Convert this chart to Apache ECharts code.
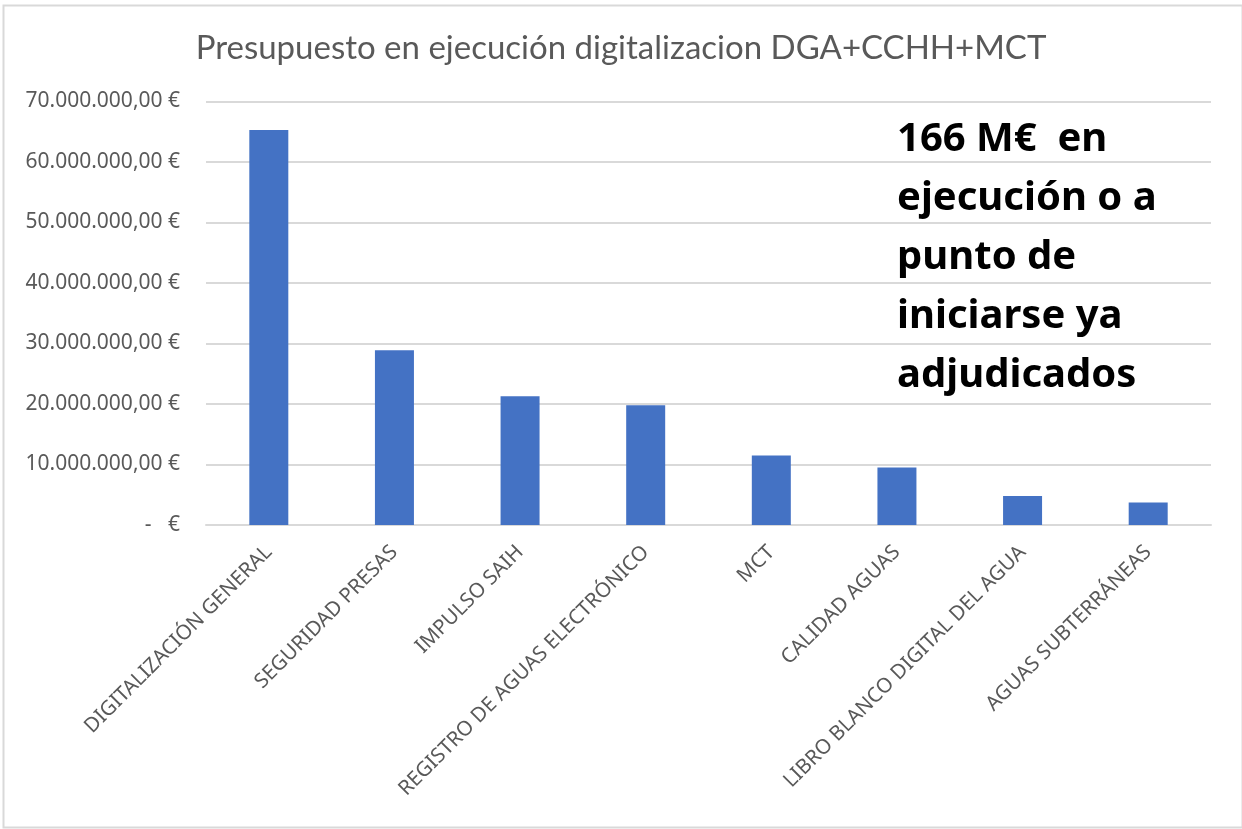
<!DOCTYPE html>
<html lang="es">
  <head>
    <meta charset="UTF-8" />
    <script src="https://cdn.jsdelivr.net/npm/echarts@6.0.0/dist/echarts.min.js"></script>
    <title>Presupuesto en ejecución digitalizacion</title>
    <style>
      html, body { margin: 0; padding: 0; background: #fff; }
      #chart { width: 1242px; height: 829px; }
    </style>
  </head>
  <body>
    <div id="chart"></div>
    <script>
      // categorías y presupuesto (€)
      const categorias = [
        "DIGITALIZACIÓN GENERAL",
        "SEGURIDAD PRESAS",
        "IMPULSO SAIH",
        "REGISTRO DE AGUAS ELECTRÓNICO",
        "MCT",
        "CALIDAD AGUAS",
        "LIBRO BLANCO DIGITAL DEL AGUA",
        "AGUAS SUBTERRÁNEAS"
      ];
      const presupuesto = [65300000, 28900000, 21300000, 19800000, 11500000, 9500000, 4800000, 3700000];
      const ejeMax = 70000000;
      const ejePaso = 10000000;
      const titulo = "Presupuesto en ejecución digitalizacion DGA+CCHH+MCT";
      const nota = ["166 M€  en", "ejecución o a", "punto de", "iniciarse ya", "adjudicados"];

      function euros(v) {
        if (v === 0) return "-   €";
        let s = Math.round(v).toString().replace(/\B(?=(\d{3})+(?!\d))/g, ".");
        return s + ",00 €";
      }

      const chart = echarts.init(document.getElementById("chart"), null, { renderer: "canvas" });

      const option = {
        animation: false,
        title: {
          text: titulo,
          left: "center",
          top: 27,
          textStyle: {
            fontFamily: "Lato",
            fontSize: 33,
            fontWeight: "normal",
            color: "#595959"
          }
        },
        grid: { left: 206, right: 31, top: 101.5, bottom: 304, containLabel: false },
        xAxis: {
          type: "category",
          data: categorias,
          axisLine: { lineStyle: { color: "#d9d9d9", width: 2 } },
          axisTick: { show: false },
          axisLabel: {
            rotate: 45,
            interval: 0,
            margin: 24,
            fontFamily: "Noto Sans",
            fontSize: 20.5,
            color: "#595959"
          }
        },
        yAxis: {
          type: "value",
          min: 0,
          max: ejeMax,
          interval: ejePaso,
          axisLine: { show: false },
          axisTick: { show: false },
          splitLine: { lineStyle: { color: "#d9d9d9", width: 2 } },
          axisLabel: {
            margin: 26,
            fontFamily: "Noto Sans",
            fontSize: 21,
            color: "#595959",
            formatter: euros
          }
        },
        series: [
          {
            type: "bar",
            data: presupuesto,
            barWidth: 39,
            itemStyle: { color: "#4472C4" }
          }
        ],
        graphic: [
          {
            type: "rect",
            left: 1,
            top: 3,
            shape: { width: 1239, height: 822 },
            style: { fill: "none", stroke: "#d9d9d9", lineWidth: 2 },
            silent: true
          },
          {
            type: "text",
            left: 897,
            top: 110,
            style: {
              text: nota.join("\n"),
              fontFamily: "Noto Sans",
              fontWeight: "bold",
              fontSize: 40,
              lineHeight: 59,
              fill: "#000"
            }
          }
        ]
      };

      chart.setOption(option);
    </script>
  </body>
</html>
